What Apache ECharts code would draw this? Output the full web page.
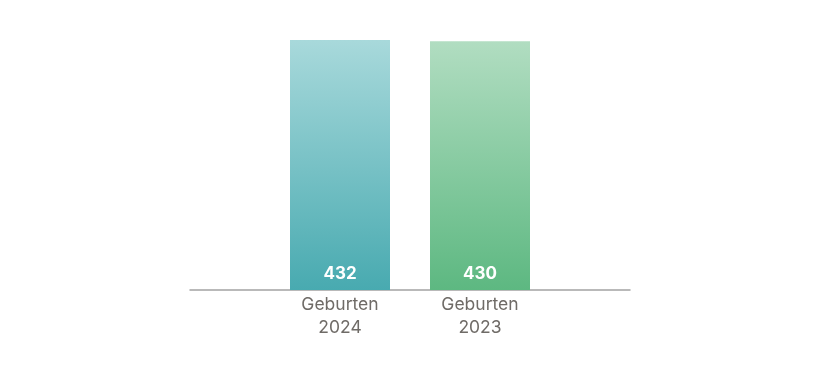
<!DOCTYPE html>
<html><head><meta charset="utf-8">
<script src="https://cdn.jsdelivr.net/npm/echarts@6/dist/echarts.min.js"></script>
<style>html,body{margin:0;padding:0;background:#fff}#c{width:820px;height:370px}</style>
</head><body><div id="c"></div>
<script>
const categories = ['Geburten\n2024', 'Geburten\n2023'];
const values = [432, 430];
const topColors = ['#a8d9db', '#b1ddc1'];
const bottomColors = ['#48aab0', '#5db881'];

const chart = echarts.init(document.getElementById('c'), null, {renderer: 'canvas'});
chart.setOption({
  animation: false,
  grid: [
    {left: 270, right: 270, top: 40, bottom: 80},
    {left: 190, right: 190, top: 40, bottom: 80}
  ],
  xAxis: [
    {type: 'category', gridIndex: 0, data: categories,
     axisLine: {show: false}, axisTick: {show: false},
     axisLabel: {color: '#6f6b67', fontSize: 17.5, fontFamily: 'Inter', lineHeight: 23, margin: 3}},
    {type: 'value', gridIndex: 1, min: 0, max: 1,
     axisLine: {show: true, onZero: false, lineStyle: {color: '#a3a3a3', width: 1.5}},
     axisTick: {show: false}, axisLabel: {show: false}, splitLine: {show: false}}
  ],
  yAxis: [
    {type: 'value', gridIndex: 0, min: 0, max: 432, show: false, splitLine: {show: false}},
    {type: 'value', gridIndex: 1, min: 0, max: 1, show: false}
  ],
  series: [{
    type: 'bar', xAxisIndex: 0, yAxisIndex: 0, barWidth: 100,
    data: values.map((v, i) => ({
      value: v,
      itemStyle: {color: new echarts.graphic.LinearGradient(0, 0, 0, 1, [
        {offset: 0, color: topColors[i]}, {offset: 1, color: bottomColors[i]}])}
    })),
    label: {show: true, position: 'insideBottom', distance: 8, color: '#ffffff',
      fontSize: 17, fontWeight: 'bold', fontFamily: 'Inter'}
  }]
});
</script></body></html>
